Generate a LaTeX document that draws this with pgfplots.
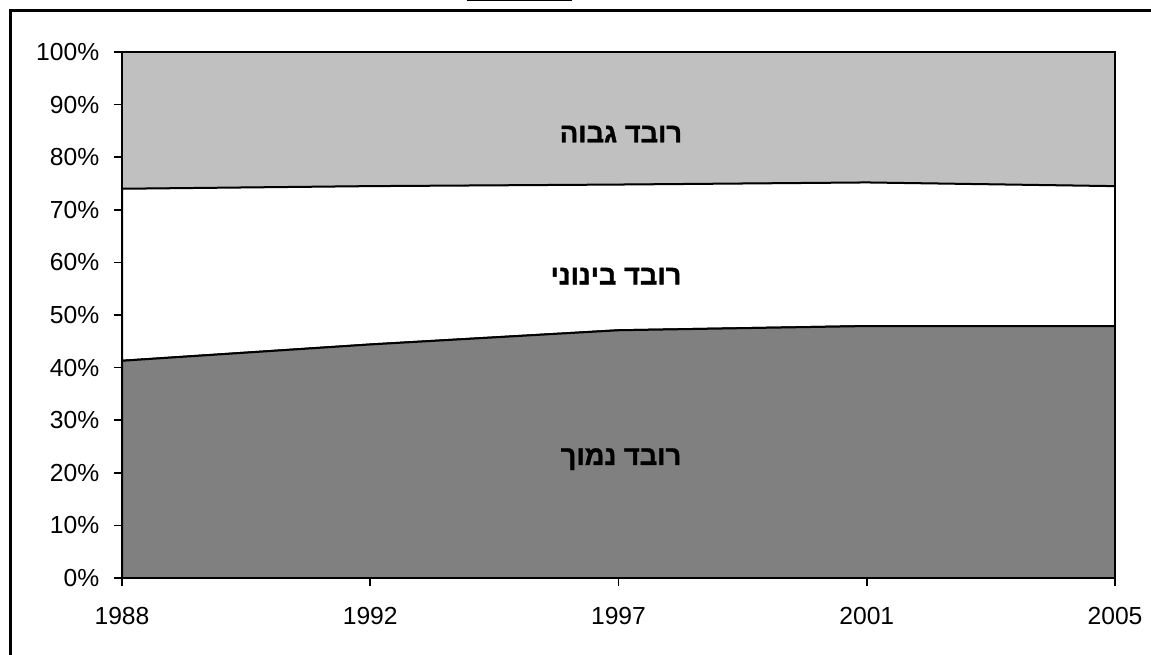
\documentclass[border=0pt]{standalone}
\usepackage{fontspec}
\setmainfont{Liberation Sans}
\newfontfamily\hebbold[Script=Hebrew, FakeBold=1.2]{Liberation Sans Bold}
\TeXXeTstate=1
\usepackage{pgfplots}
\pgfplotsset{compat=1.18}
\definecolor{topgray}{RGB}{192,192,192}
\definecolor{lowgray}{RGB}{128,128,128}
\begin{document}
\begin{tikzpicture}
\useasboundingbox (0pt,0pt) rectangle (863.25pt,-491.25pt);
\draw[line width=2.25pt] (7.9pt,-491.25pt) -- (7.9pt,-7.9pt) -- (863.25pt,-7.9pt);
\draw[line width=1pt] (350pt,-0.5pt) -- (429pt,-0.5pt);
\begin{axis}[
  at={(91.5pt,-433.5pt)}, anchor=south west,
  scale only axis, width=744.75pt, height=394.5pt,
  xmin=0, xmax=4, ymin=0, ymax=100,
  xtick={0,1,2,3,4}, xticklabels={1988,1992,1997,2001,2005},
  ytick={0,10,...,100},
  yticklabel={\pgfmathprintnumber{\tick}\%},
  /pgf/number format/assume math mode=true,
  tick align=outside, major tick length=6pt,
  xtick pos=bottom, ytick pos=left,
  tick style={black, line width=1.2pt},
  axis line style={line width=1.2pt},
  tick label style={font=\fontsize{18.5}{21}\selectfont, black},
  xticklabel style={yshift=-12.5pt},
  yticklabel style={xshift=-7.5pt},
  axis on top,
  stack plots=y,
]
\addplot[fill=lowgray, draw=black, line width=1.5pt] coordinates {(0,41.3) (1,44.4) (2,47.1) (3,47.9) (4,47.9)} \closedcycle;
\addplot[fill=white, draw=black, line width=1.5pt] coordinates {(0,32.7) (1,30.1) (2,27.7) (3,27.3) (4,26.6)} \closedcycle;
\addplot[fill=topgray, draw=black, line width=0.8pt] coordinates {(0,26.0) (1,25.5) (2,25.2) (3,24.8) (4,25.5)} \closedcycle;
\end{axis}
\begin{axis}[
  at={(91.5pt,-433.5pt)}, anchor=south west,
  scale only axis, width=744.75pt, height=394.5pt,
  xmin=0, xmax=4, ymin=0, ymax=100, hide axis,
]
\node at (axis cs:2.01,84.4) {\hebbold\fontsize{20.5}{23}\selectfont\beginR רובד גבוה\endR};
\node at (axis cs:1.99,57.4) {\hebbold\fontsize{20.5}{23}\selectfont\beginR רובד בינוני\endR};
\node at (axis cs:2.01,22.6) {\hebbold\fontsize{20.5}{23}\selectfont\beginR רובד נמוך\endR};
\end{axis}
\end{tikzpicture}
\end{document}
